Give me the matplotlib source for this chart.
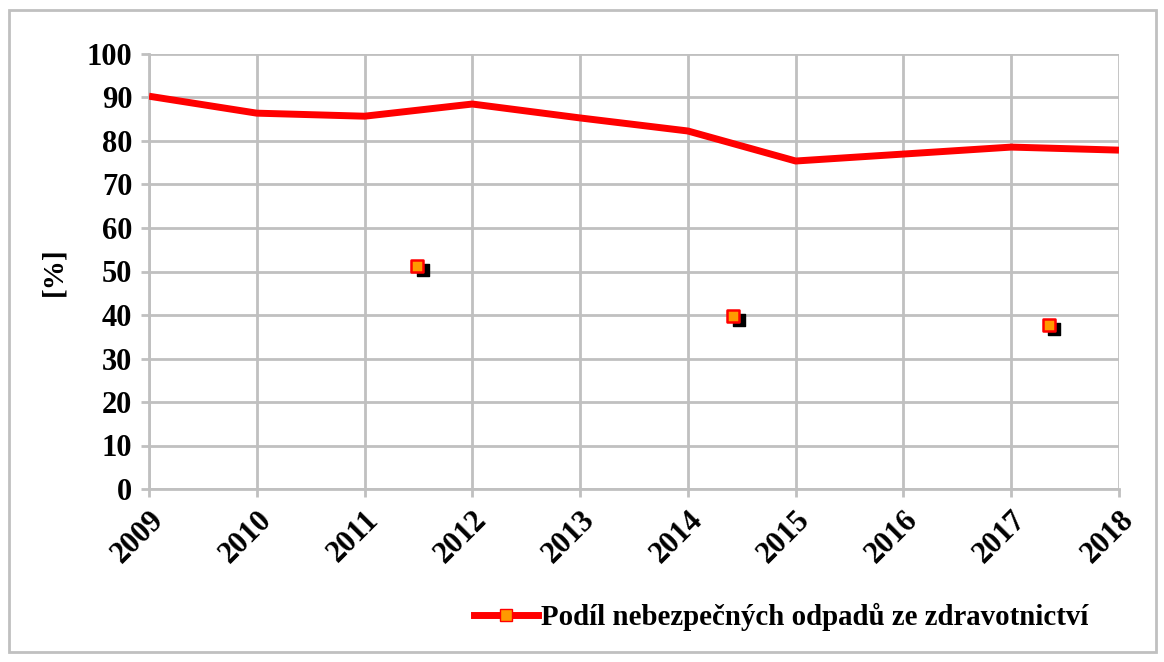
import matplotlib.pyplot as plt
from matplotlib.patches import Rectangle
from matplotlib.lines import Line2D

years = [2009, 2010, 2011, 2012, 2013, 2014, 2015, 2016, 2017, 2018]
podil = [90.3, 86.4, 85.7, 88.5, 85.3, 82.3, 75.4, 77.0, 78.6, 77.9]

# samostatne znacky v grafu (puvodni soubor je ma mimo caru)
mark_x = [2011.49, 2014.42, 2017.35]
mark_y = [51.3, 39.8, 37.7]

plt.rcParams['font.family'] = ['Liberation Serif', 'DejaVu Serif']
plt.rcParams['font.weight'] = 'bold'

fig = plt.figure(figsize=(11.64, 6.62), dpi=100)
fig.patches.append(Rectangle((9 / 1164, 10 / 662), 1147 / 1164, 642 / 662,
                             transform=fig.transFigure, fill=False,
                             edgecolor='#c0c0c0', linewidth=2))
ax = fig.add_axes([149 / 1164, 1 - 489 / 662, 970 / 1164, 435 / 662])

ax.plot(years, podil, color='#ff0000', linewidth=5, solid_capstyle='butt', zorder=3)
ax.scatter([x + 0.05 for x in mark_x], [y - 1.0 for y in mark_y], marker='s', s=85,
           color='black', zorder=3)
ax.scatter(mark_x, mark_y, marker='s', s=85, color='#ff9900', edgecolors='#ff0000',
           linewidths=1.8, zorder=4)

ax.set_xlim(2009, 2018)
ax.set_ylim(0, 100)
ax.set_yticks(range(0, 101, 10))
ax.set_xticks(years)
ax.set_xticklabels([str(y) for y in years], rotation=45, ha='right', rotation_mode='anchor')
ax.grid(True, color='#c0c0c0', linewidth=2)
ax.set_axisbelow(True)
for s in ['top', 'right']:
    ax.spines[s].set_visible(False)
for s in ['left', 'bottom']:
    ax.spines[s].set_color('#c0c0c0')
    ax.spines[s].set_linewidth(2)
ax.tick_params(axis='both', colors='#c0c0c0', width=2, length=6, labelcolor='black',
               labelsize=22, pad=6)
ax.set_ylabel('[%]', fontsize=21, fontweight='bold', labelpad=14)

h = Line2D([], [], color='#ff0000', linewidth=5, marker='s', markersize=9,
           markerfacecolor='#ff9900', markeredgecolor='#ff0000')
fig.legend([h], ['Podíl nebezpečných odpadů ze zdravotnictví'], loc='center',
           bbox_to_anchor=(781 / 1164, 1 - 617 / 662), frameon=False,
           handlelength=2.2, handletextpad=0.1, prop={'weight': 'bold', 'size': 20.8})

fig.savefig('out.png', dpi=100)
